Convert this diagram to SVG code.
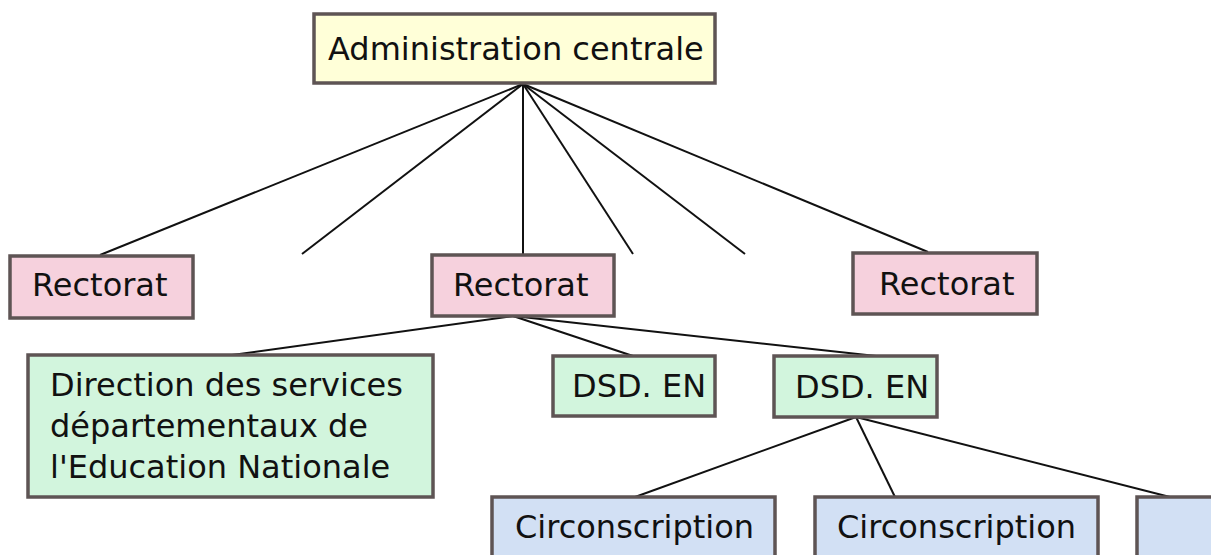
<svg xmlns="http://www.w3.org/2000/svg" width="1211" height="555" viewBox="0 0 1211 555">
<style>
.box{stroke:#5e5454;stroke-width:3.5}
.y{fill:#ffffd8}.p{fill:#f6d1dd}.g{fill:#d2f5dd}.b{fill:#d2e0f4}
text{font-family:"DejaVu Sans",sans-serif;font-size:32px;fill:#111}
#connectors line{stroke:#111;stroke-width:2}
</style>
<rect width="1211" height="555" fill="#fff"/>
<g id="connectors">
<line x1="523" y1="84" x2="100" y2="255"/>
<line x1="523" y1="84" x2="302" y2="254"/>
<line x1="523" y1="84" x2="523" y2="255"/>
<line x1="523" y1="84" x2="633" y2="254"/>
<line x1="523" y1="84" x2="745" y2="254"/>
<line x1="523" y1="84" x2="928" y2="252"/>
<line x1="513" y1="316" x2="232" y2="355"/>
<line x1="513" y1="316" x2="633" y2="356"/>
<line x1="513" y1="316" x2="876" y2="356"/>
<line x1="856" y1="417" x2="635" y2="497"/>
<line x1="856" y1="417" x2="895" y2="497"/>
<line x1="856" y1="417" x2="1170" y2="497"/>
</g>
<g id="admin"><rect class="box y" x="314" y="14" width="401" height="69"/><text x="328" y="60">Administration centrale</text></g>
<g id="rectorat1"><rect class="box p" x="10" y="256" width="183" height="62"/><text x="32" y="296">Rectorat</text></g>
<g id="rectorat2"><rect class="box p" x="432" y="255" width="182" height="61"/><text x="453" y="296">Rectorat</text></g>
<g id="rectorat3"><rect class="box p" x="853" y="253" width="184" height="61"/><text x="879" y="295">Rectorat</text></g>
<g id="dsden"><rect class="box g" x="28" y="355" width="405" height="142"/><text x="50" y="396">Direction des services</text><text x="50" y="437">départementaux de</text><text x="50" y="478">l'Education Nationale</text></g>
<g id="dsd1"><rect class="box g" x="553" y="356" width="162" height="60"/><text x="572" y="397">DSD. EN</text></g>
<g id="dsd2"><rect class="box g" x="774" y="356" width="163" height="61"/><text x="795" y="398">DSD. EN</text></g>
<g id="circ1"><rect class="box b" x="492" y="497" width="283" height="70"/><text x="515" y="538">Circonscription</text></g>
<g id="circ2"><rect class="box b" x="815" y="497" width="283" height="70"/><text x="837" y="538">Circonscription</text></g>
<g id="circ3"><rect class="box b" x="1137" y="497" width="100" height="70"/></g>
</svg>
